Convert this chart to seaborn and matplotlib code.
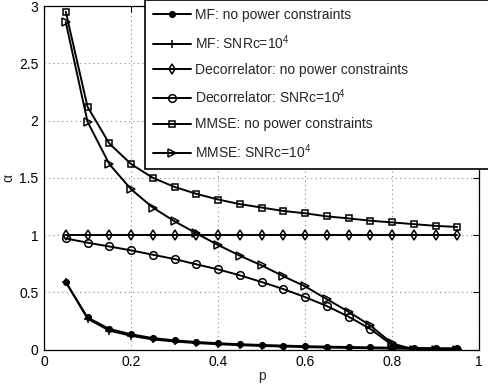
import numpy as np
import pandas as pd
import matplotlib
matplotlib.use("Agg")
import matplotlib.pyplot as plt
import seaborn as sns

# Load fraction p and the resulting spectral efficiency alpha for each receiver
p = [0.05, 0.10, 0.15, 0.20, 0.25, 0.30, 0.35, 0.40, 0.45, 0.50,
     0.55, 0.60, 0.65, 0.70, 0.75, 0.80, 0.85, 0.90, 0.95]

mf_free = [0.59, 0.28, 0.18, 0.133, 0.10, 0.08, 0.066, 0.055, 0.046, 0.04,
           0.034, 0.029, 0.025, 0.022, 0.019, 0.016, 0.014, 0.012, 0.011]
mf_snrc = [0.59, 0.27, 0.165, 0.12, 0.088, 0.07, 0.056, 0.046, 0.038, 0.031,
           0.026, 0.021, 0.017, 0.014, 0.011, 0.008, 0.006, 0.004, 0.003]
dec_free = [1.0] * 19
dec_snrc = [0.97, 0.933, 0.90, 0.866, 0.828, 0.79, 0.744, 0.70, 0.648, 0.59,
            0.528, 0.458, 0.38, 0.287, 0.18, 0.04, 0.0, 0.0, 0.0]
mmse_free = [2.95, 2.12, 1.80, 1.62, 1.50, 1.42, 1.36, 1.31, 1.27, 1.24,
             1.21, 1.19, 1.163, 1.145, 1.125, 1.11, 1.095, 1.08, 1.07]
mmse_snrc = [2.86, 1.99, 1.62, 1.40, 1.24, 1.12, 1.015, 0.913, 0.82, 0.735,
             0.64, 0.552, 0.44, 0.33, 0.21, 0.054, 0.0, 0.0, 0.0]

labels = [
    "MF: no power constraints",
    r"MF: SNRc=10$^4$",
    "Decorrelator: no power constraints",
    r"Decorrelator: SNRc=10$^4$",
    "MMSE: no power constraints",
    r"MMSE: SNRc=10$^4$",
]
series = [mf_free, mf_snrc, dec_free, dec_snrc, mmse_free, mmse_snrc]

sns.set_style("white")
plt.rcParams["font.family"] = ["Liberation Sans", "DejaVu Sans"]
plt.rcParams["mathtext.fontset"] = "custom"
plt.rcParams["mathtext.rm"] = "Liberation Sans"

fig = plt.figure(figsize=(4.89, 3.88), dpi=100)
ax = fig.add_axes([0.090, 0.0992, 0.8896, 0.8853])

styles = [
    dict(marker="o", markersize=4.0, markerfacecolor="black"),
    dict(marker="+", markersize=6.0, markerfacecolor="black"),
    dict(marker="d", markersize=5.5, markerfacecolor="none"),
    dict(marker="o", markersize=5.5, markerfacecolor="none"),
    dict(marker="s", markersize=5.0, markerfacecolor="none"),
    dict(marker=">", markersize=5.8, markerfacecolor="none"),
]

for vals, lab, st in zip(series, labels, styles):
    df = pd.DataFrame({"p": p, "alpha": vals})
    sns.lineplot(data=df, x="p", y="alpha", ax=ax, color="black",
                 linewidth=1.4, markeredgecolor="black", markeredgewidth=1.1,
                 label=lab, zorder=3, **st)

ax.set_xlim(0, 1)
ax.set_ylim(0, 3)
ax.set_xticks([0, 0.2, 0.4, 0.6, 0.8, 1])
ax.set_xticklabels(["0", "0.2", "0.4", "0.6", "0.8", "1"])
ax.set_yticks([0, 0.5, 1, 1.5, 2, 2.5, 3])
ax.set_yticklabels(["0", "0.5", "1", "1.5", "2", "2.5", "3"])
ax.grid(True, linestyle=(0, (1, 3)), color="#8a8a8a", linewidth=0.8)
ax.tick_params(direction="in", top=True, right=True, length=4, width=0.8,
               labelsize=10, colors="black", pad=4)
for s in ax.spines.values():
    s.set_color("black")
    s.set_linewidth(0.9)

ax.set_xlabel("p", fontsize=10, labelpad=0)
ax.set_ylabel("α", fontsize=10, labelpad=3)

leg = ax.legend(loc="upper left", bbox_to_anchor=(0.232, 0.534, 0.85, 0.483),
                mode="expand", fontsize=10, frameon=True, fancybox=False,
                framealpha=1, edgecolor="black", borderaxespad=0,
                handlelength=2.8, handletextpad=0.25, labelspacing=0.80,
                borderpad=0.55)
leg.get_frame().set_linewidth(1.2)
leg.set_zorder(5)

fig.savefig("out.png", dpi=100)
